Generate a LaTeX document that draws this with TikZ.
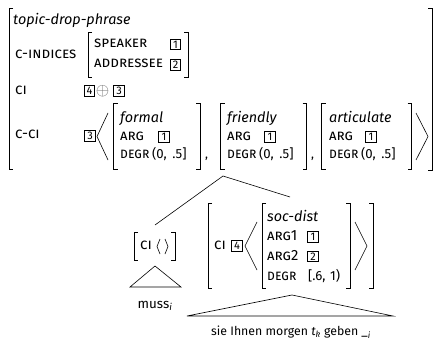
\documentclass[tikz,border=0pt]{standalone}
\usepackage{fontspec}
\setmainfont{Fira Sans}
\newcommand\avmlb[3]{\draw[brk] ({#1+4},#2) -- (#1,#2) -- (#1,#3) -- ({#1+4},#3);}
\newcommand\avmrb[3]{\draw[brk] ({#1-4},#2) -- (#1,#2) -- (#1,#3) -- ({#1-4},#3);}
\newcommand\avmang[4]{\draw[brk] (#1,#3) -- (#2,{(#3+#4)/2}) -- (#1,#4);}
\newcommand\degrlab{\scalebox{0.9}[1]{DEGR}}
\begin{document}
\begin{tikzpicture}[x=1pt,y=-1pt,
  txt/.style={anchor=base west,inner sep=0pt,font=\fontsize{12.3}{14}\selectfont},
  val/.style={anchor=base west,inner sep=0pt,font=\fontsize{13.2}{15}\selectfont},
  it/.style={anchor=base west,inner sep=0pt,font=\fontsize{14.4}{16}\selectfont\itshape},
  lab/.style={anchor=base west,inner sep=0pt,font=\fontsize{14.8}{17}\selectfont\addfontfeatures{Letters=UppercaseSmallCaps}},
  tag/.style={draw,line width=0.55pt,inner sep=0pt,minimum width=10.5pt,minimum height=10.5pt,font=\fontsize{11}{12}\selectfont},
  brk/.style={line width=0.6pt},
  ln/.style={line width=0.6pt}]
\useasboundingbox (0,0) rectangle (433,339);
% outer AVM
\avmlb{9}{8}{169}
\draw[brk] (428,8) -- (432.7,8) -- (432.7,170) -- (428,170);
\node[it] (tdp) at (13,25) {topic-drop-phrase};
\node[lab] (cind) at (15,58.5) {C-INDICES};
\avmlb{88}{32}{77}
\avmrb{188}{32}{77}
\node[lab] (spk) at (94,48) {SPEAKER};
\node[lab] (adr) at (94,68) {ADDRESSEE};
\node[tag] (t1a) at (175.5,44.5) {1};
\node[tag] (t2a) at (175.5,65) {2};
\node[lab] (ci) at (15,95) {CI};
\node[tag] (t4a) at (89.5,91) {4};
\node[inner sep=0pt,text=black!60,font=\fontsize{17}{18}\selectfont] (oplus) at (102.5,91) {$\oplus$};
\node[tag] (t3a) at (119,91) {3};
\node[lab] (cci) at (15,139) {C-CI};
\node[tag] (t3b) at (90,136) {3};
\avmang{108}{97}{113}{160}
% formal
\avmlb{113.5}{103}{169}
\avmrb{200}{103}{169}
\node[it] (fml) at (120,123) {formal};
\node[lab] (argf) at (120,141) {ARG};
\node[tag] (t1f) at (164,137) {1};
\node[lab] (degf) at (120,158) {\degrlab};
\node[val] (vf) at (152,158) {(0,\hspace{2pt} .5]};
\node[txt] (cm1) at (205,158) {,};
% friendly
\avmlb{220.7}{103}{169}
\avmrb{306.7}{103}{169}
\node[it] (frd) at (227,123) {friendly};
\node[lab] (argr) at (227,141) {ARG};
\node[tag] (t1r) at (270,137) {1};
\node[lab] (degr) at (227,158) {\degrlab};
\node[val] (vr) at (259,158) {(0,\hspace{2pt} .5]};
\node[txt] (cm2) at (311,158) {,};
% articulate
\avmlb{321.7}{103}{169}
\avmrb{411.7}{103}{169}
\node[it] (art) at (329,123) {articulate};
\node[lab] (arga) at (329,141) {ARG};
\node[tag] (t1t) at (371,137) {1};
\node[lab] (dega) at (329,158) {\degrlab};
\node[val] (va) at (361,158) {(0,\hspace{2pt} .5]};
\avmang{416}{428}{113}{160}
% tree
\coordinate (top) at (223,176);
\coordinate (lft) at (155,225);
\coordinate (rgt) at (290,197);
\draw[ln] (lft) -- (top) -- (rgt);
% left daughter
\avmlb{134}{232}{260}
\avmrb{175}{232}{260}
\node[lab] (ci2) at (140,249) {CI};
\avmang{160}{157}{239}{254}
\avmang{165}{168}{239}{254}
\coordinate (ta) at (155,266);
\coordinate (tb) at (130,287);
\coordinate (tc) at (181,287);
\draw[ln] (ta) -- (tb) -- (tc) -- cycle;
\node[anchor=base,inner sep=0pt,font=\fontsize{13.4}{15}\selectfont] (muss) at (155,308) {muss\textsubscript{\itshape i}};
% right daughter
\avmlb{208}{203}{288}
\avmrb{373}{203}{288}
\node[lab] (ci3) at (214,249) {CI};
\node[tag] (t4b) at (237,246) {4};
\avmang{257}{245}{222}{270}
\avmlb{262}{203}{288}
\avmrb{350}{203}{288}
\node[it] (sd) at (267,221) {soc-dist};
\node[lab] (a1) at (267,240) {ARG1};
\node[tag] (t1c) at (313,237) {1};
\node[lab] (a2) at (267,260) {ARG2};
\node[tag] (t2c) at (313,256.5) {2};
\node[lab] (dg) at (267,280.5) {\degrlab};
\node[val] (v4) at (308,280.5) {[.6,\hspace{1pt} 1)};
\avmang{355}{367}{222}{270}
\coordinate (sa) at (292,295);
\coordinate (sb) at (187,316);
\coordinate (sc) at (393,316);
\draw[ln] (sa) -- (sb) -- (sc) -- cycle;
\node[txt,anchor=base] (sent) at (291,335.5) {sie Ihnen morgen \textit{t}\textsubscript{\itshape k} geben \_\textsubscript{\itshape i}};
\end{tikzpicture}
\end{document}
